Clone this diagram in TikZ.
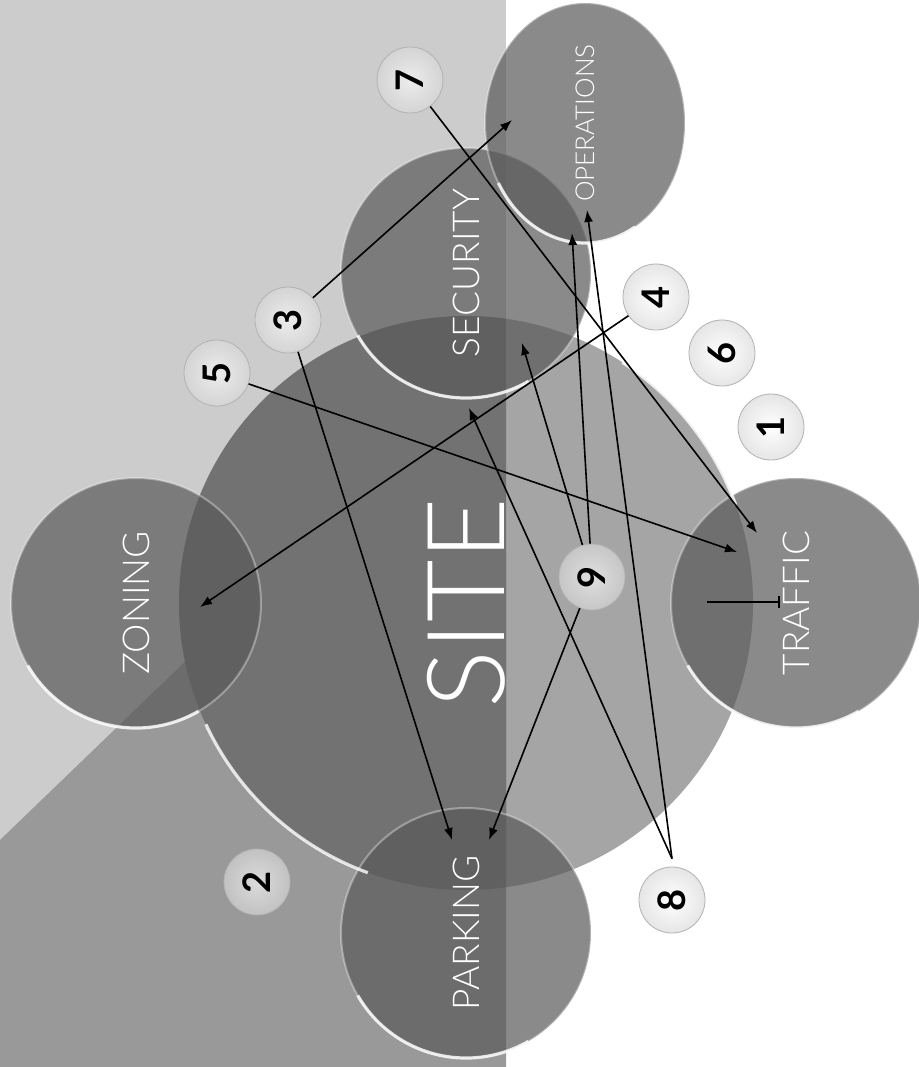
\documentclass[tikz,border=0pt]{standalone}
\usepackage{graphicx}
\usepackage{fontspec}
\setmainfont{Lato}
\newfontfamily\thinfont{Lato Light}
\usepackage{tikz}
\usetikzlibrary{arrows.meta,shapes.geometric}

\definecolor{lightbg}{gray}{0.8}
\definecolor{midbg}{gray}{0.6}
\definecolor{sitegray}{gray}{0.3}
\definecolor{discgray}{gray}{0.35}
\newcommand{\vlabel}[1]{\rotatebox{90}{#1}}

\begin{document}
\begin{tikzpicture}[x=0.5pt, y=-0.5pt, node distance=165pt,
		disc/.style={circle, minimum size=125pt, inner sep=0pt, fill=discgray, fill opacity=0.7, text opacity=1, draw=white, draw opacity=0.35, line width=1pt, text=white, font=\thinfont\fontsize{18.5}{18.5}\selectfont},
		site/.style={circle, minimum size=287pt, inner sep=0pt, fill=sitegray, fill opacity=0.5, text opacity=1, text=white, font=\thinfont\fontsize{54}{54}\selectfont},
		badge/.style={circle, minimum size=33pt, inner sep=0pt, inner color=white, outer color=white!70!gray, fill opacity=0.65, text opacity=1, draw=gray!60, thin, font=\bfseries\fontsize{19}{19}\selectfont},
		rim/.style={white, line width=1.6pt, opacity=0.8},
		every edge/.style={draw, line width=0.8pt, -{Latex[length=6pt,width=4.5pt]}}]
			\fill[white] (0,0) rectangle (919,1067);
			\fill[lightbg] (0,0) rectangle (506,1067);
			\fill[midbg] (0,840) -- (300,551) -- (506,551) -- (506,1067) -- (0,1067) -- cycle;
			\begin{scope}
				\clip (0,0) rectangle (506,1067);
				\fill[midbg] (466,603) circle[radius=143.5pt];
			\end{scope}
			\useasboundingbox (0,0) rectangle (919,1067);
			
			\node[site] (SITE) at (466,603) {\vlabel{SITE}};
			\node[disc, left of=SITE] (ZON) {\vlabel{ZONING}};
			\node[disc, above of=SITE] (SEC) {\vlabel{SECURITY}};
			\node[disc, right of=SITE] (TRA) {\vlabel{TRAFFIC}};
			\node[disc, below of=SITE] (PAR) {\vlabel{PARKING}};
			\node[disc, ellipse, minimum width=100pt, minimum height=120pt, font=\thinfont\fontsize{13}{13}\selectfont] (OPS) at (585,123) {\vlabel{OPERATIONS}};
			
			\foreach \n in {ZON,SEC,TRA,PAR}
				\draw[rim] ([shift={(210:62.5pt)}]\n.center) arc[start angle=210, end angle=300, radius=62.5pt];
			\draw[rim] ([shift={(210:50pt and 60pt)}]OPS.center) arc[start angle=210, end angle=300, x radius=50pt, y radius=60pt];
			\draw[rim] ([shift={(205:143.5pt)}]SITE.center) arc[start angle=205, end angle=250, radius=143.5pt];
			\draw[rim] ([shift={(20:143.5pt)}]SITE.center) arc[start angle=20, end angle=57, radius=143.5pt];
			\draw[line width=0.6pt] (707,602) -- (779,602) (779,596) -- (779,608);
			
			\node[badge] (N1) at (771,427) {\vlabel{1}};
			\node[badge] (N2) at (257,882) {\vlabel{2}};
			\node[badge] (N3) at (288,320) {\vlabel{3}};
			\node[badge] (N4) at (656,297) {\vlabel{4}};
			\node[badge] (N5) at (217,373) {\vlabel{5}};
			\node[badge] (N6) at (722,353) {\vlabel{6}};
			\node[badge] (N7) at (410,80) {\vlabel{7}};
			\node[badge] (N8) at (672,900) {\vlabel{8}};
			\node[badge] (N9) at (592,577) {\vlabel{9}};
			
			\coordinate (OPS3) at (512,120);
			\coordinate (PAR3) at (452,840);
			\coordinate (ZON4) at (200,607);
			\coordinate (TRA5) at (737,552);
			\coordinate (TRA7) at (757,533);
			\coordinate (SEC8) at (469,408);
			\coordinate (OPS8) at (587,210);
			\coordinate (SEC9) at (522,343);
			\coordinate (OPS9) at (572,233);
			\coordinate (PAR9) at (489,840);
			
			\path (N3) edge (OPS3);
			\path (N3) edge (PAR3);
			\path (N4) edge (ZON4);
			\path (N5) edge (TRA5);
			\path (N7) edge (TRA7);
			\path ([yshift=4pt]N8.north) edge (SEC8);
			\path ([yshift=4pt]N8.north) edge (OPS8);
			\path (N9) edge (SEC9);
			\path (N9) edge (OPS9);
			\path (N9) edge (PAR9);
		\end{tikzpicture}
\end{document}
